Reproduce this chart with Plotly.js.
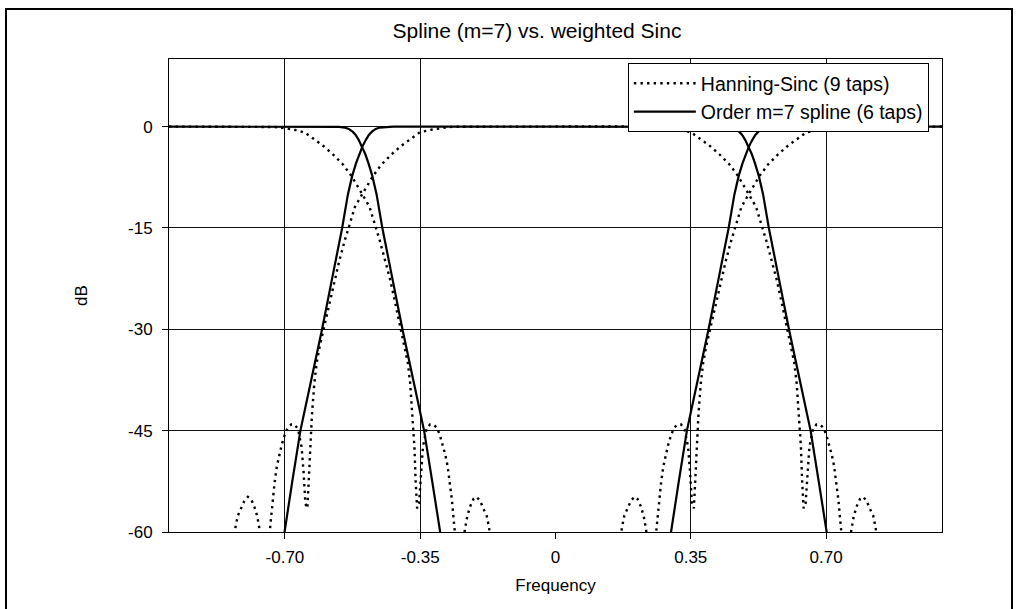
<!DOCTYPE html>
<html>
<head>
<meta charset="utf-8">
<script src="https://cdn.plot.ly/plotly-3.0.1.min.js"></script>
<style>html,body{margin:0;padding:0;background:#fff;}#chart{width:1016px;height:609px;}</style>
</head>
<body>
<div id="chart"></div>
<script>
// ---- Data ----
// Hanning-Sinc (9 taps), low-pass response, negative and positive frequencies
const hsLowFNeg = [-1.000, -0.870, -0.845, -0.835, -0.828, -0.822, -0.813, -0.805, -0.796, -0.788, -0.780, -0.772, -0.766, -0.757, -0.748, -0.740, -0.736, -0.732, -0.727, -0.721, -0.715, -0.708, -0.700, -0.692, -0.684, -0.675, -0.666, -0.657, -0.652, -0.647, -0.642, -0.638, -0.635, -0.630, -0.624, -0.618, -0.610, -0.598, -0.585, -0.572, -0.560, -0.546, -0.533, -0.519, -0.500, -0.486, -0.472, -0.450, -0.424, -0.398, -0.372, -0.352, -0.326, -0.300, -0.274, -0.250, -0.200];
const hsLowDbNeg = [-72, -72, -72, -62.5, -59.3, -57.6, -56.5, -55.4, -54.8, -55.1, -56.1, -57.6, -59.5, -63, -68, -60.3, -57.8, -55.3, -52.8, -50.3, -48.6, -47.0, -45.5, -44.5, -44.1, -44.1, -44.8, -47.4, -51.0, -55.8, -56.5, -52.3, -47.4, -42.5, -38.0, -35.0, -32.5, -29.4, -26.0, -22.6, -20.0, -17.0, -14.4, -11.9, -10.0, -8.6, -7.3, -5.6, -4.1, -2.8, -1.7, -0.9, -0.5, -0.24, -0.06, -0.02, 0];
const hsLowFPos = [0.000, 0.200, 0.250, 0.274, 0.300, 0.326, 0.352, 0.372, 0.398, 0.424, 0.450, 0.472, 0.486, 0.500, 0.519, 0.533, 0.546, 0.560, 0.572, 0.585, 0.598, 0.610, 0.618, 0.624, 0.630, 0.635, 0.638, 0.642, 0.647, 0.652, 0.657, 0.666, 0.675, 0.684, 0.692, 0.700, 0.708, 0.715, 0.721, 0.727, 0.732, 0.736, 0.740, 0.748, 0.757, 0.766, 0.772, 0.780, 0.788, 0.796, 0.805, 0.813, 0.822, 0.828, 0.835, 0.845, 0.870, 1.000];
const hsLowDbPos = [0, 0, -0.02, -0.06, -0.24, -0.5, -0.9, -1.7, -2.8, -4.1, -5.6, -7.3, -8.6, -10.0, -11.9, -14.4, -17.0, -20.0, -22.6, -26.0, -29.4, -32.5, -35.0, -38.0, -42.5, -47.4, -52.3, -56.5, -55.8, -51.0, -47.4, -44.8, -44.1, -44.1, -44.5, -45.5, -47.0, -48.6, -50.3, -52.8, -55.3, -57.8, -60.3, -68, -63, -59.5, -57.6, -56.1, -55.1, -54.8, -55.4, -56.5, -57.6, -59.3, -62.5, -72, -72, -72];

// Hanning-Sinc, image (high-pass) response, left and right branches
const hsHighFLeft = [-1.000, -0.800, -0.750, -0.726, -0.700, -0.674, -0.648, -0.628, -0.602, -0.576, -0.550, -0.528, -0.514, -0.500, -0.481, -0.467, -0.454, -0.440, -0.428, -0.415, -0.402, -0.390, -0.382, -0.376, -0.370, -0.365, -0.362, -0.358, -0.353, -0.348, -0.343, -0.334, -0.325, -0.316, -0.308, -0.300, -0.292, -0.285, -0.279, -0.273, -0.268, -0.264, -0.260, -0.252, -0.243, -0.234, -0.228, -0.220, -0.212, -0.204, -0.195, -0.187, -0.178, -0.172, -0.165, -0.155, -0.130];
const hsHighDbLeft = [0, 0, -0.02, -0.06, -0.24, -0.5, -0.9, -1.7, -2.8, -4.1, -5.6, -7.3, -8.6, -10.0, -11.9, -14.4, -17.0, -20.0, -22.6, -26.0, -29.4, -32.5, -35.0, -38.0, -42.5, -47.4, -52.3, -56.5, -55.8, -51.0, -47.4, -44.8, -44.1, -44.1, -44.5, -45.5, -47.0, -48.6, -50.3, -52.8, -55.3, -57.8, -60.3, -68, -63, -59.5, -57.6, -56.1, -55.1, -54.8, -55.4, -56.5, -57.6, -59.3, -62.5, -72, -72];
const hsHighFRight = [0.130, 0.155, 0.165, 0.172, 0.178, 0.187, 0.195, 0.204, 0.212, 0.220, 0.228, 0.234, 0.243, 0.252, 0.260, 0.264, 0.268, 0.273, 0.279, 0.285, 0.292, 0.300, 0.308, 0.316, 0.325, 0.334, 0.343, 0.348, 0.353, 0.358, 0.362, 0.365, 0.370, 0.376, 0.382, 0.390, 0.402, 0.415, 0.428, 0.440, 0.454, 0.467, 0.481, 0.500, 0.514, 0.528, 0.550, 0.576, 0.602, 0.628, 0.648, 0.674, 0.700, 0.726, 0.750, 0.800, 1.000];
const hsHighDbRight = [-72, -72, -62.5, -59.3, -57.6, -56.5, -55.4, -54.8, -55.1, -56.1, -57.6, -59.5, -63, -68, -60.3, -57.8, -55.3, -52.8, -50.3, -48.6, -47.0, -45.5, -44.5, -44.1, -44.1, -44.8, -47.4, -51.0, -55.8, -56.5, -52.3, -47.4, -42.5, -38.0, -35.0, -32.5, -29.4, -26.0, -22.6, -20.0, -17.0, -14.4, -11.9, -10.0, -8.6, -7.3, -5.6, -4.1, -2.8, -1.7, -0.9, -0.5, -0.24, -0.06, -0.02, 0, 0];

// Order m=7 spline (6 taps), low-pass response
const spLowFNeg = [-0.740, -0.720, -0.701, -0.681, -0.660, -0.632, -0.604, -0.578, -0.552, -0.537, -0.526, -0.516, -0.508, -0.500, -0.491, -0.483, -0.475, -0.465, -0.455, -0.440, -0.420];
const spLowDbNeg = [-74.0, -67.0, -60.0, -52.5, -45.0, -37.5, -30.0, -22.5, -15.0, -10.0, -7.3, -5.4, -4.1, -3.0, -2.0, -1.25, -0.75, -0.35, -0.15, -0.05, 0];
const spLowFPos = [0.000, 0.420, 0.440, 0.455, 0.465, 0.475, 0.483, 0.491, 0.500, 0.508, 0.516, 0.526, 0.537, 0.552, 0.578, 0.604, 0.632, 0.660, 0.681, 0.701, 0.720, 0.740];
const spLowDbPos = [0, 0, -0.05, -0.15, -0.35, -0.75, -1.25, -2.0, -3.0, -4.1, -5.4, -7.3, -10.0, -15.0, -22.5, -30.0, -37.5, -45.0, -52.5, -60.0, -67.0, -74.0];

// Spline, image (high-pass) response, left and right branches
const spHighFLeft = [-1.000, -0.580, -0.560, -0.545, -0.535, -0.525, -0.517, -0.509, -0.500, -0.492, -0.484, -0.474, -0.463, -0.448, -0.422, -0.396, -0.368, -0.340, -0.319, -0.299, -0.280, -0.260];
const spHighDbLeft = [0, 0, -0.05, -0.15, -0.35, -0.75, -1.25, -2.0, -3.0, -4.1, -5.4, -7.3, -10.0, -15.0, -22.5, -30.0, -37.5, -45.0, -52.5, -60.0, -67.0, -74.0];
const spHighFRight = [0.260, 0.280, 0.299, 0.319, 0.340, 0.368, 0.396, 0.422, 0.448, 0.463, 0.474, 0.484, 0.492, 0.500, 0.509, 0.517, 0.525, 0.535, 0.545, 0.560, 0.580, 1.000];
const spHighDbRight = [-74.0, -67.0, -60.0, -52.5, -45.0, -37.5, -30.0, -22.5, -15.0, -10.0, -7.3, -5.4, -4.1, -3.0, -2.0, -1.25, -0.75, -0.35, -0.15, -0.05, 0, 0];

const xTickVals = [-0.70, -0.35, 0, 0.35, 0.70];
const xTickText = ['-0.70', '-0.35', '0', '0.35', '0.70'];
const yTickVals = [0, -15, -30, -45, -60];
const yTickText = ['0', '-15', '-30', '-45', '-60'];
const legendNames = ['Hanning-Sinc (9 taps)', 'Order m=7 spline (6 taps)'];

// ---- Figure ----
const FONT = '"Liberation Sans", Arial, Helvetica, sans-serif';
const dotLine = {color: '#000', width: 2.4, dash: '2.4px,4.2px'};
const solidLine = {color: '#000', width: 2.2};

const traces = [
  {x: hsLowFNeg.concat(hsLowFPos), y: hsLowDbNeg.concat(hsLowDbPos), mode: 'lines', name: legendNames[0],
   line: dotLine},
  {x: hsHighFLeft.concat([null], hsHighFRight), y: hsHighDbLeft.concat([null], hsHighDbRight), mode: 'lines',
   name: legendNames[0], line: dotLine, showlegend: false, connectgaps: false},
  {x: spLowFNeg.concat(spLowFPos), y: spLowDbNeg.concat(spLowDbPos), mode: 'lines', name: legendNames[1],
   line: solidLine},
  {x: spHighFLeft.concat([null], spHighFRight), y: spHighDbLeft.concat([null], spHighDbRight), mode: 'lines',
   name: legendNames[1], line: solidLine, showlegend: false, connectgaps: false}
];

const layout = {
  width: 1016, height: 609,
  margin: {l: 169, r: 74, t: 59, b: 77, pad: 0},
  paper_bgcolor: '#fff', plot_bgcolor: '#fff',
  font: {family: FONT, color: '#000', size: 17},
  title: {text: 'Spline (m=7) vs. weighted Sinc', font: {family: FONT, size: 21, color: '#000'},
          x: 537 / 1016, xref: 'container', xanchor: 'center', y: 1 - 31 / 609, yref: 'container', yanchor: 'middle'},
  showlegend: true,
  legend: {x: 0.983, xanchor: 'right', y: 0.9915, yanchor: 'top', bgcolor: '#fff', bordercolor: '#000', borderwidth: 1,
           font: {family: FONT, size: 19.5, color: '#000'}, itemwidth: 62, traceorder: 'normal'},
  xaxis: {
    range: [-1, 1], tickvals: xTickVals, ticktext: xTickText, ticks: 'outside', ticklen: 6, tickwidth: 1, tickcolor: '#000',
    showgrid: true, gridcolor: '#111', gridwidth: 1, zeroline: true, zerolinecolor: 'rgba(0,0,0,0)', zerolinewidth: 1,
    showline: true, linecolor: '#000', linewidth: 1, mirror: true, ticklabelstandoff: 4,
    tickfont: {family: FONT, size: 17, color: '#000'},
    title: {text: 'Frequency', font: {family: FONT, size: 17, color: '#000'}, standoff: 12},
    fixedrange: true
  },
  yaxis: {
    range: [-60, 10], tickvals: yTickVals, ticktext: yTickText, ticks: 'outside', ticklen: 6, tickwidth: 1, tickcolor: '#000',
    showgrid: true, gridcolor: '#111', gridwidth: 1, zeroline: false,
    showline: true, linecolor: '#000', linewidth: 1, mirror: true, ticklabelstandoff: 6,
    tickfont: {family: FONT, size: 17, color: '#000'},
    title: {text: 'dB', font: {family: FONT, size: 17, color: '#000'}, standoff: 36},
    fixedrange: true
  },
  shapes: [
    {type: 'rect', xref: 'paper', yref: 'paper', x0: (6 - 169) / 773, x1: (1012 - 169) / 773,
     y0: (532 - 615) / 473, y1: (532 - 9) / 473, line: {color: '#000', width: 2}, fillcolor: 'rgba(0,0,0,0)', layer: 'below'}
  ]
};

Plotly.newPlot('chart', traces, layout, {displayModeBar: false, staticPlot: true});
</script>
</body>
</html>
